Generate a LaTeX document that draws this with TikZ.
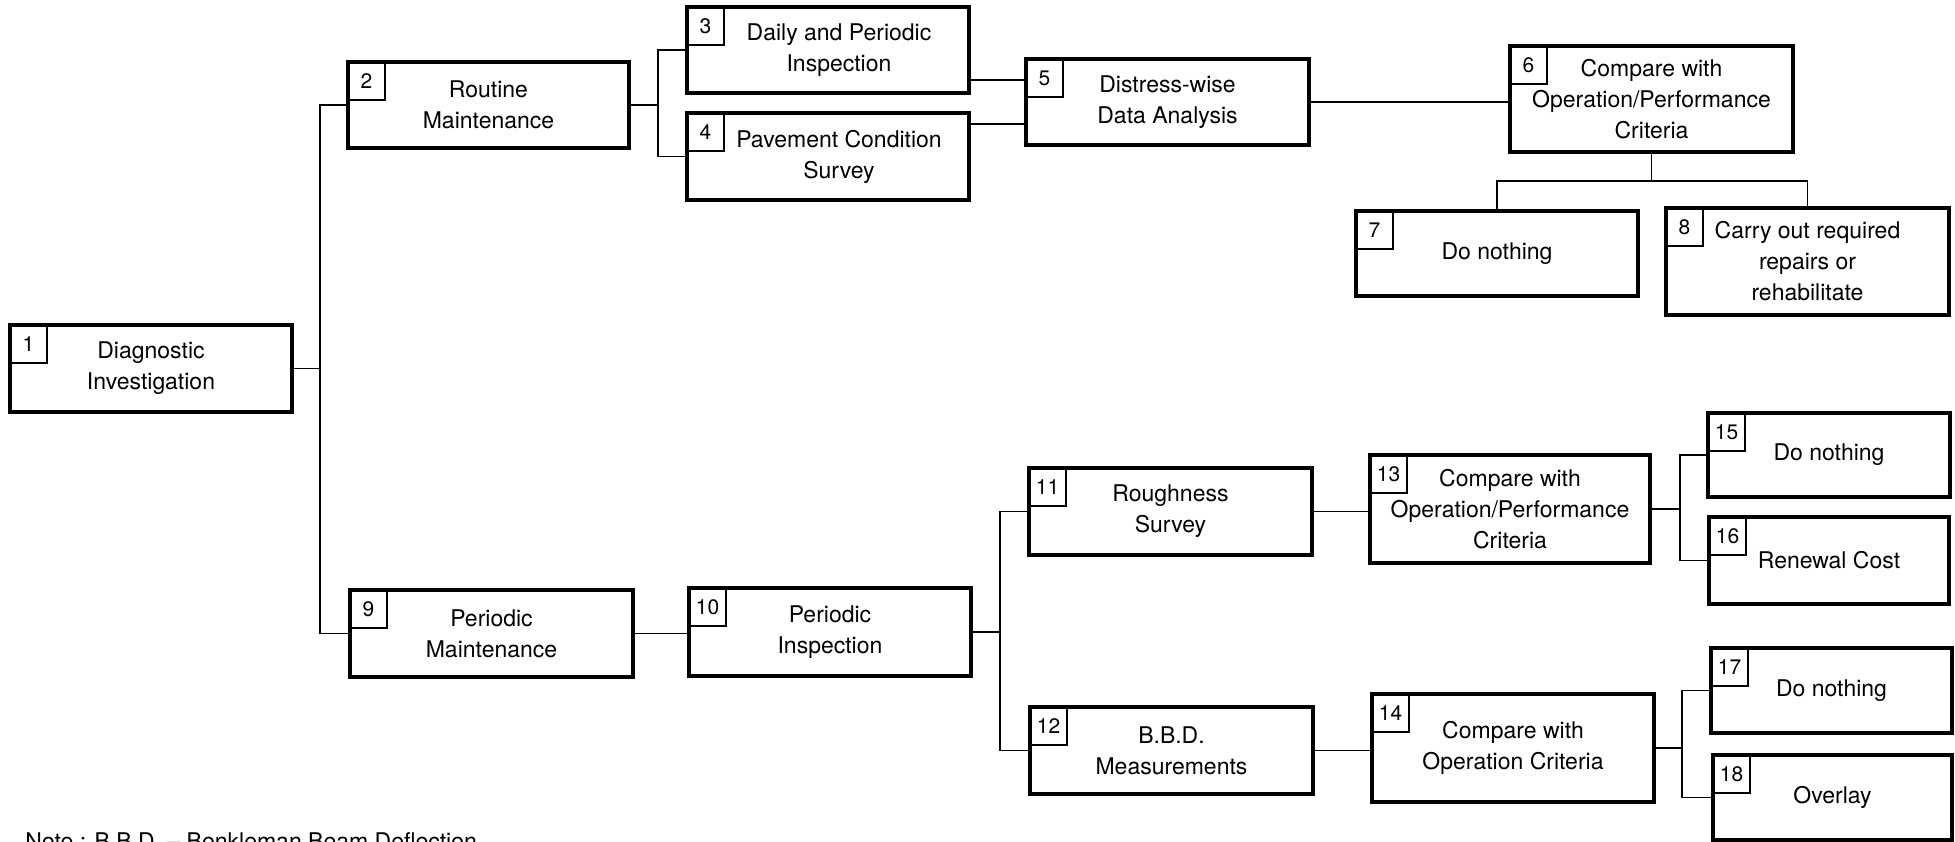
\documentclass[tikz,border=0pt]{standalone}
\usepackage{fontspec}
\setmainfont{TeX Gyre Heros}
\usetikzlibrary{calc}
\tikzset{
  mainbox/.style={draw, line width=1.8pt, inner sep=0pt, outer sep=0pt},
  numbox/.style={draw, line width=0.7pt, inner sep=0pt, outer sep=0pt,
    minimum width=18.5pt, minimum height=19pt, anchor=north west,
    font=\fontsize{10.5}{12}\selectfont},
  boxtext/.style={align=center, inner sep=0pt, font=\fontsize{11.5}{15.5}\selectfont},
  link/.style={line width=0.9pt},
  notetext/.style={anchor=north west, inner sep=0pt, font=\fontsize{11.5}{14}\selectfont},
}
% [text options]{name}{number}{x1}{y1}{x2}{y2}{text}
\newcommand\mkbox[8][]{%
  \node[mainbox, minimum width={(#6-#4)*0.5pt}, minimum height={(#7-#5)*0.5pt}]
    (#2) at ({(#4+#6)/2},{(#5+#7)/2}) {};
  \node[numbox] (#2n) at (#2.north west) {#3};
  \node[boxtext, #1] (#2t) at (#2.center) {#8};
}
\begin{document}
\begin{tikzpicture}[x=0.5pt, y=-0.5pt]
\useasboundingbox (0,0) rectangle (1955,841);

% boxes
\mkbox{b1}{1}{10}{325}{292}{412}{Diagnostic\\Investigation}
\mkbox{b2}{2}{348}{62}{629}{148}{Routine\\Maintenance}
\mkbox[xshift=5.5pt]{b3}{3}{687}{7}{969}{93}{Daily and Periodic\\Inspection}
\mkbox[xshift=5.5pt]{b4}{4}{687}{113}{969}{200}{Pavement Condition\\Survey}
\mkbox{b5}{5}{1026}{59}{1309}{145}{Distress-wise\\Data Analysis}
\mkbox{b6}{6}{1510}{46}{1793}{152}{Compare with\\Operation/Performance\\Criteria}
\mkbox{b7}{7}{1356}{211}{1638}{296}{Do nothing}
\mkbox{b8}{8}{1666}{208}{1949}{315}{Carry out required\\repairs or\\rehabilitate}
\mkbox{b9}{9}{350}{590}{633}{677}{Periodic\\Maintenance}
\mkbox{b10}{10}{689}{588}{971}{676}{Periodic\\Inspection}
\mkbox{b11}{11}{1029}{468}{1312}{555}{Roughness\\Survey}
\mkbox{b12}{12}{1030}{707}{1313}{794}{B.B.D.\\Measurements}
\mkbox{b13}{13}{1370}{455}{1650}{563}{Compare with\\Operation/Performance\\Criteria}
\mkbox{b14}{14}{1372}{694}{1654}{802}{Compare with\\Operation Criteria}
\mkbox{b15}{15}{1708}{413}{1950}{497}{Do nothing}
\mkbox{b16}{16}{1709}{517}{1949}{604}{Renewal Cost}
\mkbox{b17}{17}{1711}{648}{1952}{733}{Do nothing}
\mkbox{b18}{18}{1713}{755}{1952}{840}{Overlay}

% connectors
\coordinate (s1) at ($(b1.east)+(28,0)$);
\draw[link] (b1.east) -- (s1);
\draw[link] (b2.west) -- (b2.west -| s1) -- (b9.west -| s1) -- (b9.west);

\coordinate (s2) at ($(b2.east)+(29,0)$);
\draw[link] (b2.east) -- (s2);
\draw[link] (b3.west) -- (b3.west -| s2) -- (b4.west -| s2) -- (b4.west);

\coordinate (c35) at ($(b5.west)+(0,-22)$);
\coordinate (c45) at ($(b5.west)+(0,22)$);
\draw[link] (b3.east |- c35) -- (c35);
\draw[link] (b4.east |- c45) -- (c45);
\draw[link] (b5.east) -- (b5.east -| b6.west);

\coordinate (s6) at ($(b6.south)+(0,29)$);
\draw[link] (b6.south) -- (s6);
\draw[link] (b7.north) -- (b7.north |- s6) -- (b8.north |- s6) -- (b8.north);

\draw[link] (b9.east) -- (b9.east -| b10.west);
\coordinate (s10) at ($(b10.east)+(29,0)$);
\draw[link] (b10.east) -- (s10);
\draw[link] (b11.west) -- (b11.west -| s10) -- (b12.west -| s10) -- (b12.west);

\draw[link] (b11.east) -- (b11.east -| b13.west);
\draw[link] (b12.east) -- (b12.east -| b14.west);

\coordinate (s13) at ($(b13.east)+(30,0)$);
\draw[link] (b13.east) -- (s13);
\draw[link] (b15.west) -- (b15.west -| s13) -- (b16.west -| s13) -- (b16.west);

\coordinate (s14) at ($(b14.east)+(28,0)$);
\draw[link] (b14.east) -- (s14);
\draw[link] (b17.west) -- (b17.west -| s14) -- (b18.west -| s14) -- (b18.west);

% footnote
\node[notetext] (note) at (25,832) {Note : B.B.D. – Benkleman Beam Deflection};
\end{tikzpicture}
\end{document}
